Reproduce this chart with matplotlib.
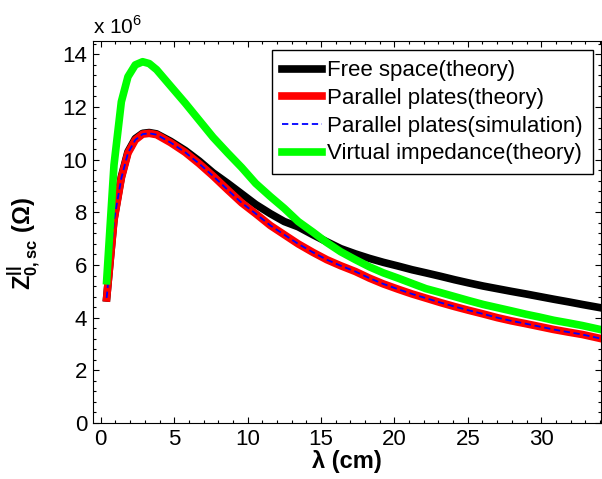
## Space-charge impedance vs wavelength, free space / parallel plates / virtual impedance
import numpy as np
import matplotlib.pyplot as plt
from matplotlib.ticker import MultipleLocator

plt.rcParams['font.family'] = ['Liberation Sans', 'DejaVu Sans']
plt.rcParams['mathtext.fontset'] = 'custom'
plt.rcParams['mathtext.rm'] = 'Liberation Sans'
plt.rcParams['mathtext.bf'] = 'Liberation Sans:bold'

######Data (impedance in units of 1e6 Ohm)######
lam = [0.4, 0.9, 1.4, 1.85, 2.35, 2.85, 3.3, 3.8, 4.75, 5.75, 6.7, 7.65, 8.65,
       9.6, 10.55, 11.55, 12.5, 13.45, 14.45, 15.4, 16.35, 17.35, 18.3, 19.25,
       20.25, 21.2, 22.15, 23.15, 24.1, 25.05, 26.05, 27.0, 27.95, 28.95, 29.9,
       30.85, 31.85, 32.8, 34.1]

free_space = [4.75, 7.75, 9.35, 10.3, 10.8, 11.0, 11.03, 10.98, 10.7, 10.35,
              9.95, 9.5, 9.1, 8.7, 8.3, 7.95, 7.65, 7.45, 7.15, 6.88, 6.62,
              6.42, 6.25, 6.1, 5.96, 5.82, 5.7, 5.57, 5.44, 5.32, 5.2, 5.1,
              5.0, 4.9, 4.8, 4.7, 4.6, 4.5, 4.37]

plates_theory = [4.75, 7.7, 9.3, 10.25, 10.75, 10.97, 11.0, 10.95, 10.65, 10.28,
                 9.85, 9.38, 8.85, 8.36, 7.95, 7.5, 7.15, 6.8, 6.48, 6.2, 5.97,
                 5.75, 5.5, 5.28, 5.08, 4.9, 4.74, 4.57, 4.42, 4.28, 4.14, 4.0,
                 3.88, 3.77, 3.66, 3.55, 3.45, 3.36, 3.2]

plates_sim = [4.75, 7.7, 9.3, 10.25, 10.75, 10.97, 11.0, 10.95, 10.65, 10.28,
              9.85, 9.38, 8.85, 8.36, 7.95, 7.5, 7.15, 6.8, 6.48, 6.2, 5.97,
              5.75, 5.5, 5.28, 5.08, 4.9, 4.74, 4.57, 4.42, 4.28, 4.14, 4.0,
              3.88, 3.77, 3.66, 3.55, 3.45, 3.36, 3.2]

virtual = [5.4, 9.8, 12.2, 13.15, 13.6, 13.72, 13.65, 13.42, 12.8, 12.15,
           11.5, 10.85, 10.25, 9.7, 9.1, 8.6, 8.15, 7.65, 7.25, 6.85, 6.5,
           6.2, 5.93, 5.7, 5.5, 5.3, 5.1, 4.95, 4.8, 4.65, 4.5, 4.38, 4.26,
           4.13, 4.02, 3.9, 3.8, 3.7, 3.54]

######Plot######
fig = plt.figure(figsize=(6.02, 4.79), dpi=100)
ax = fig.add_axes([0.154, 0.117, 0.845, 0.797])

ax.plot(lam, free_space, color='black', lw=5.5, label='Free space(theory)')
ax.plot(lam, plates_theory, color='red', lw=5.5, label='Parallel plates(theory)')
ax.plot(lam, plates_sim, color='blue', lw=1.3, ls=(0, (3.5, 2)),
        label='Parallel plates(simulation)')
ax.plot(lam, virtual, color='#00ff00', lw=5.5, label='Virtual impedance(theory)')

ax.set_xlim(-0.55, 34.1)
ax.set_ylim(0, 14.5)
ax.xaxis.set_major_locator(MultipleLocator(5))
ax.xaxis.set_minor_locator(MultipleLocator(1))
ax.yaxis.set_major_locator(MultipleLocator(2))
ax.yaxis.set_minor_locator(MultipleLocator(0.4))
ax.tick_params(which='both', direction='in', top=True, right=True,
               labelsize=16, width=0.8)
ax.tick_params(which='major', length=4, pad=4)
ax.tick_params(which='minor', length=2.5)

ax.set_xlabel('λ (cm)', fontsize=17, fontweight='bold', labelpad=0)
ax.set_ylabel(r'$\mathbf{Z}^{\mathbf{||}}_{\mathbf{0,sc}}$ $\mathbf{(\Omega)}$',
              fontsize=17)
ax.yaxis.set_label_coords(-0.098, 0.47)
ax.text(0.0, 1.008, r'x 10$^{6}$', transform=ax.transAxes, fontsize=15,
        ha='left', va='bottom')

leg = ax.legend(loc='upper right', bbox_to_anchor=(0.983, 0.976), fontsize=16,
                fancybox=False, framealpha=1, edgecolor='black',
                handlelength=1.8, handletextpad=0.25, borderpad=0.45,
                labelspacing=0.3, borderaxespad=0)
leg.get_frame().set_linewidth(1.0)

fig.savefig('out.png', dpi=100)
